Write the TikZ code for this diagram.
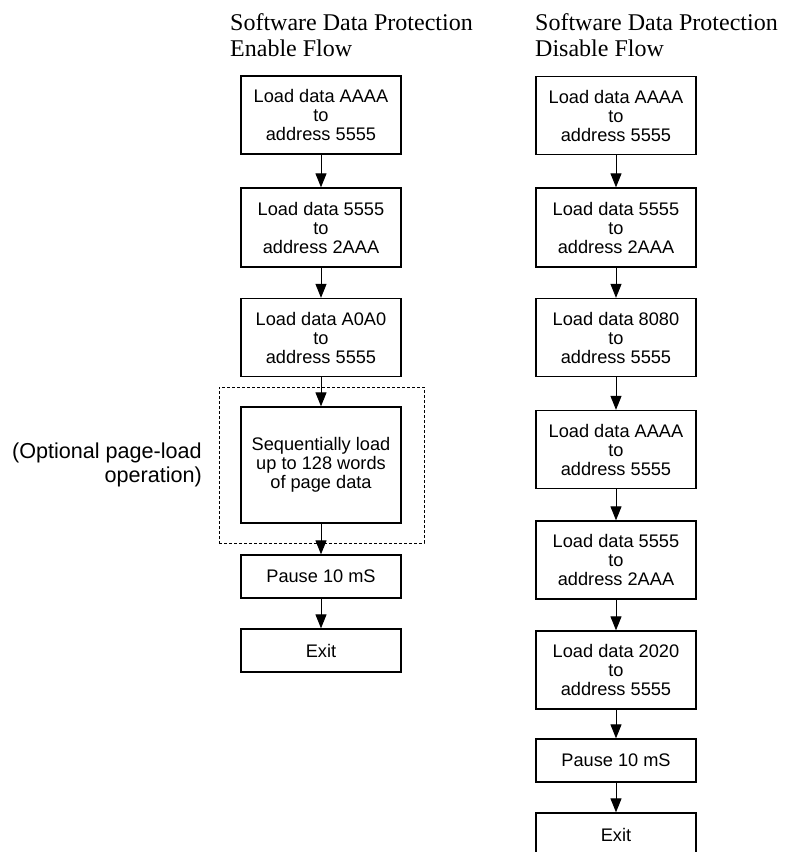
\documentclass[tikz,border=0pt]{standalone}
\usepackage{fontspec}
\setmainfont{Liberation Serif}
\setsansfont{Liberation Sans}
\usetikzlibrary{arrows.meta}
\begin{document}
\begin{tikzpicture}[x=1pt,y=-1pt,
  stepbox/.style={draw, line width=1.3pt, minimum width=160pt, inner sep=0pt, align=center,
     font=\sffamily\fontsize{18.2}{19}\selectfont},
  flow/.style={line width=0.9pt, -{Triangle[length=14pt,width=11pt]}},
  title/.style={anchor=north west, inner sep=0pt, align=left, font=\rmfamily\fontsize{24}{26}\selectfont},
  grp/.style={draw, dashed, line width=0.7pt, dash pattern=on 3pt off 2pt}
]
\clip (0,0) rectangle (792,852);
\fill[white] (0,0) rectangle (792,852);

% titles
\node[title] (t1) at (230,13) {Software Data Protection\\Enable Flow};
\node[title] (t2) at (535,13) {Software Data Protection\\Disable Flow};

% left column
\node[stepbox, minimum height=78pt]  (L1) at (321,115)   {Load data AAAA\\to\\address 5555};
\node[stepbox, minimum height=79pt]  (L2) at (321,227.5) {Load data 5555\\to\\address 2AAA};
\node[stepbox, minimum height=78pt]  (L3) at (321,337.5) {Load data A0A0\\to\\address 5555};
\node[stepbox, minimum height=116pt] (L4) at (321,465)   {Sequentially load\\up to 128 words\\of page data};
\node[stepbox, minimum height=43pt]  (L5) at (321,576.5) {Pause 10 mS};
\node[stepbox, minimum height=43pt]  (L6) at (321,650.5) {Exit};

\node[grp, minimum width=205pt, minimum height=156pt, inner sep=0pt] (G) at (321.5,465) {};
\node[anchor=east, inner sep=0pt, align=right, font=\sffamily\fontsize{21.6}{24}\selectfont]
  (opt) at (202,465) {(Optional page-load\\operation)};

\draw[flow] (L1) -- (L2);
\draw[flow] (L2) -- (L3);
\draw[flow] (L3) -- (L4);
\draw[flow] (L4) -- (L5);
\draw[flow] (L5) -- (L6);

% right column
\node[stepbox, minimum height=78pt] (R1) at (616,115.5) {Load data AAAA\\to\\address 5555};
\node[stepbox, minimum height=79pt] (R2) at (616,227.5) {Load data 5555\\to\\address 2AAA};
\node[stepbox, minimum height=78pt] (R3) at (616,337.5) {Load data 8080\\to\\address 5555};
\node[stepbox, minimum height=78pt] (R4) at (616,449.5) {Load data AAAA\\to\\address 5555};
\node[stepbox, minimum height=78pt] (R5) at (616,560)   {Load data 5555\\to\\address 2AAA};
\node[stepbox, minimum height=78pt] (R6) at (616,670)   {Load data 2020\\to\\address 5555};
\node[stepbox, minimum height=43pt] (R7) at (616,760.5) {Pause 10 mS};
\node[stepbox, minimum height=44pt] (R8) at (616,835)   {Exit};

\draw[flow] (R1) -- (R2);
\draw[flow] (R2) -- (R3);
\draw[flow] (R3) -- (R4);
\draw[flow] (R4) -- (R5);
\draw[flow] (R5) -- (R6);
\draw[flow] (R6) -- (R7);
\draw[flow] (R7) -- (R8);
\end{tikzpicture}
\end{document}
